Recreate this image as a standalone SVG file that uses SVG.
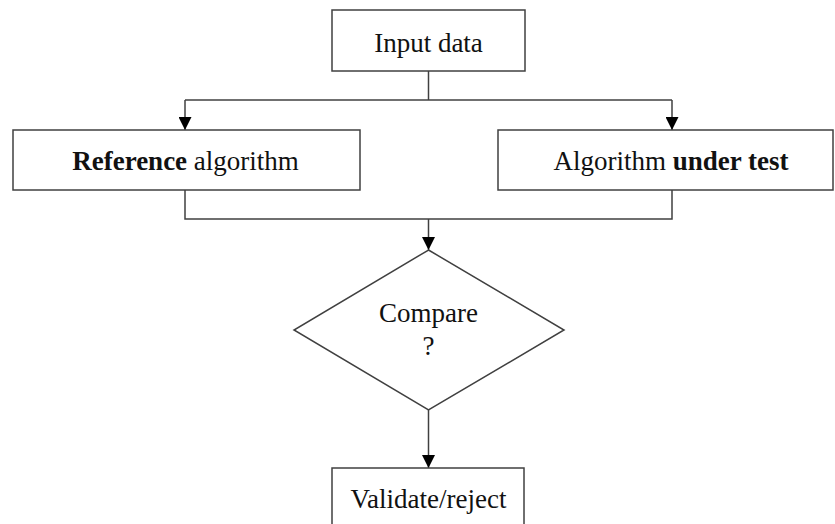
<svg xmlns="http://www.w3.org/2000/svg" width="835" height="524" viewBox="0 0 835 524">
<style>
.box{fill:#fff;stroke:#404040;stroke-width:1.5}
.ln{fill:none;stroke:#404040;stroke-width:1.5}
.ar{fill:none;stroke:#404040;stroke-width:1.5;marker-end:url(#arr)}
text{font-family:"Liberation Serif","Times New Roman",serif;font-size:27px;fill:#111;text-anchor:middle}
.b{font-weight:bold}
</style>
<defs>
<marker id="arr" markerUnits="userSpaceOnUse" markerWidth="13" markerHeight="13" refX="13" refY="6.5" orient="auto" viewBox="0 0 13 13">
<path d="M0,0 L13,6.5 L0,13 Z" fill="#000"/>
</marker>
</defs>
<rect width="835" height="524" fill="#fff"/>
<g id="connectors">
<path class="ln" d="M428.5,71 V100"/>
<path class="ln" d="M185,100 H672"/>
<path class="ar" d="M185,100 V130"/>
<path class="ar" d="M672,100 V130"/>
<path class="ln" d="M185,190 V219 H672 V190"/>
<path class="ar" d="M428.5,219 V250"/>
<path class="ar" d="M428.5,410 V468"/>
</g>
<g id="input">
<rect class="box" x="332" y="10" width="193" height="61"/>
<text x="428.5" y="52">Input data</text>
</g>
<g id="reference">
<rect class="box" x="13" y="130" width="347" height="60"/>
<text x="185.5" y="170"><tspan class="b">Reference</tspan> algorithm</text>
</g>
<g id="under-test">
<rect class="box" x="498" y="130" width="335" height="60"/>
<text x="671" y="170">Algorithm <tspan class="b">under test</tspan></text>
</g>
<g id="compare">
<polygon class="box" points="428.5,250 564,330 428.5,410 294,330"/>
<text x="428.5" y="322">Compare</text>
<text x="428.5" y="355">?</text>
</g>
<g id="validate">
<rect class="box" x="332" y="468" width="192" height="70"/>
<text x="428.5" y="508">Validate/reject</text>
</g>
</svg>
